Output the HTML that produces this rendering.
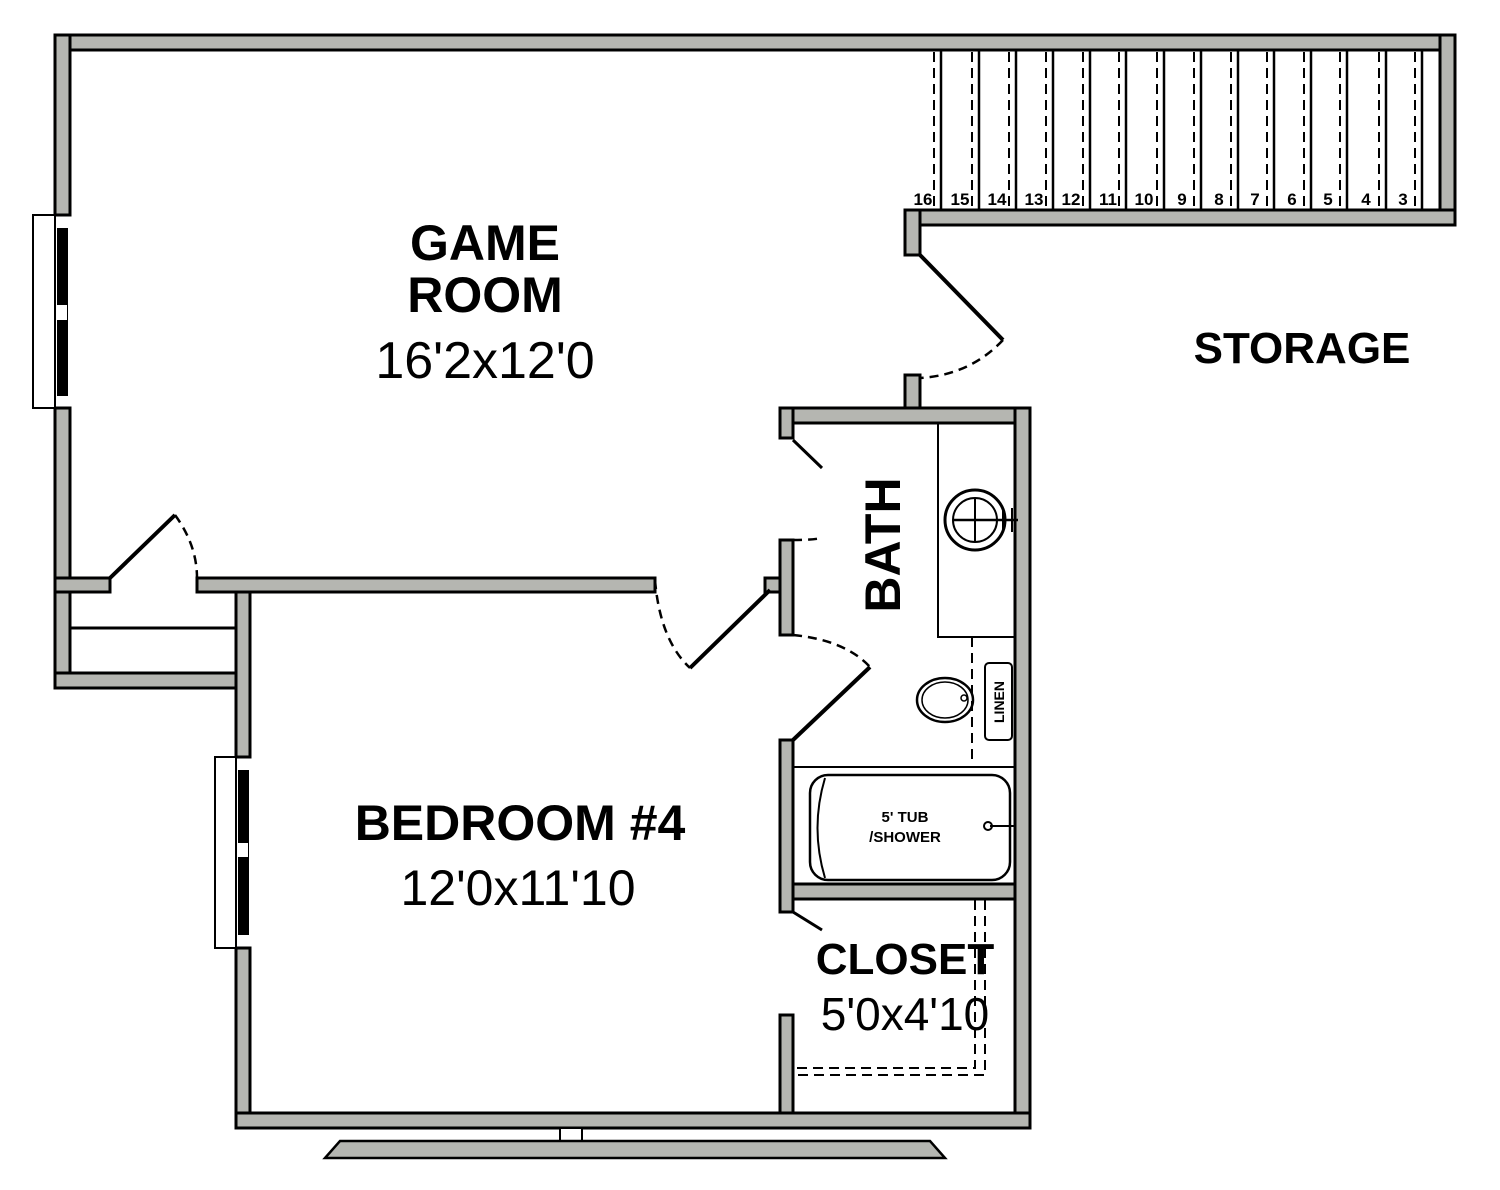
<!DOCTYPE html>
<html><head><meta charset="utf-8"><style>html,body{margin:0;padding:0;background:#fff}svg{display:block}</style></head>
<body>
<svg width="1500" height="1190" viewBox="0 0 1500 1190" xmlns="http://www.w3.org/2000/svg" font-family="Liberation Sans, sans-serif">
<g fill="#b5b6b1" stroke="#000" stroke-width="3">
<rect x="55" y="35" width="1400" height="15"/>
<rect x="1440" y="35" width="15" height="190"/>
<rect x="905" y="210" width="550" height="15"/>
<rect x="905" y="210" width="15" height="45"/>
<rect x="905" y="375" width="15" height="40"/>
<rect x="55" y="35" width="15" height="180"/>
<rect x="55" y="408" width="15" height="280"/>
<rect x="55" y="578" width="55" height="14"/>
<rect x="197" y="578" width="458" height="14"/>
<rect x="765" y="578" width="28" height="14"/>
<rect x="55" y="673" width="195" height="15"/>
<rect x="236" y="592" width="14" height="165"/>
<rect x="236" y="948" width="14" height="180"/>
<rect x="780" y="408" width="250" height="15"/>
<rect x="1015" y="408" width="15" height="720"/>
<rect x="780" y="408" width="13" height="30"/>
<rect x="780" y="540" width="13" height="95"/>
<rect x="780" y="740" width="13" height="172"/>
<rect x="780" y="1015" width="13" height="113"/>
<rect x="793" y="884" width="222" height="15"/>
<rect x="236" y="1113" width="794" height="15"/>
</g>
<g fill="none" stroke="#000">
<rect x="33" y="215" width="22" height="193" stroke-width="2" fill="#fff"/>
<rect x="57" y="228" width="11" height="168" fill="#000" stroke="none"/>
<line x1="62" y1="305" x2="62" y2="320" stroke="#fff" stroke-width="10"/>
<rect x="215" y="757" width="21" height="191" stroke-width="2" fill="#fff"/>
<rect x="238" y="770" width="11" height="165" fill="#000" stroke="none"/>
<line x1="243" y1="843" x2="243" y2="857" stroke="#fff" stroke-width="10"/>
<line x1="70" y1="628" x2="236" y2="628" stroke-width="3"/>
<line x1="110" y1="578" x2="175" y2="515" stroke-width="4"/>
<path d="M175 515 Q197 545 197 578" stroke-width="2.5" stroke-dasharray="9 6"/>
<line x1="690" y1="668" x2="770" y2="590" stroke-width="4"/>
<path d="M655 580 Q660 640 690 668" stroke-width="2.5" stroke-dasharray="9 6"/>
<line x1="920" y1="255" x2="1003" y2="340" stroke-width="4"/>
<path d="M1003 340 Q970 375 920 378" stroke-width="2.5" stroke-dasharray="9 6"/>
<line x1="793" y1="440" x2="822" y2="468" stroke-width="3"/>
<path d="M793 540 Q812 540 822 538" stroke-width="2.5" stroke-dasharray="9 6"/>
<line x1="793" y1="740" x2="870" y2="667" stroke-width="4"/>
<path d="M793 635 Q845 640 870 667" stroke-width="2.5" stroke-dasharray="9 6"/>
<line x1="793" y1="912" x2="822" y2="930" stroke-width="3"/>
<rect x="938" y="423" width="77" height="214" stroke-width="2"/>
<circle cx="975" cy="520" r="30" stroke-width="3"/>
<circle cx="975" cy="520" r="22" stroke-width="2"/>
<line x1="953" y1="520" x2="1018" y2="520" stroke-width="2.5"/>
<line x1="975" y1="498" x2="975" y2="542" stroke-width="2"/>
<line x1="1003" y1="508" x2="1003" y2="532" stroke-width="2"/>
<line x1="1012" y1="508" x2="1012" y2="532" stroke-width="2"/>
<line x1="972" y1="637" x2="972" y2="762" stroke-width="2" stroke-dasharray="10 6"/>
<ellipse cx="945" cy="700" rx="28" ry="22" stroke-width="2.5"/>
<ellipse cx="945" cy="700" rx="23" ry="18" stroke-width="1.5"/>
<circle cx="964" cy="698" r="3" stroke-width="1.5"/>
<rect x="985" y="663" width="27" height="77" rx="4" stroke-width="2"/>
<text x="0" y="0" transform="translate(1004 702) rotate(-90)" font-size="14" font-weight="bold" fill="#000" stroke="none" text-anchor="middle">LINEN</text>
<line x1="793" y1="767" x2="1015" y2="767" stroke-width="2"/>
<rect x="810" y="775" width="200" height="105" rx="18" stroke-width="2.5"/>
<path d="M825 778 Q810 828 825 878" stroke-width="2"/>
<line x1="990" y1="826" x2="1015" y2="826" stroke-width="2"/>
<circle cx="988" cy="826" r="4" stroke-width="2"/>
<text x="905" y="822" font-size="15" font-weight="bold" fill="#000" stroke="none" text-anchor="middle">5' TUB</text>
<text x="905" y="842" font-size="15" font-weight="bold" fill="#000" stroke="none" text-anchor="middle">/SHOWER</text>
<path d="M975 900 V1068 H795" stroke-width="2" stroke-dasharray="10 6"/>
<path d="M985 900 V1075 H795" stroke-width="2" stroke-dasharray="10 6"/>
<g stroke-width="2.5">
<line x1="941" y1="50" x2="941" y2="210"/><line x1="979" y1="50" x2="979" y2="210"/>
<line x1="1016" y1="50" x2="1016" y2="210"/><line x1="1053" y1="50" x2="1053" y2="210"/>
<line x1="1090" y1="50" x2="1090" y2="210"/><line x1="1126" y1="50" x2="1126" y2="210"/>
<line x1="1164" y1="50" x2="1164" y2="210"/><line x1="1201" y1="50" x2="1201" y2="210"/>
<line x1="1238" y1="50" x2="1238" y2="210"/><line x1="1274" y1="50" x2="1274" y2="210"/>
<line x1="1311" y1="50" x2="1311" y2="210"/><line x1="1347" y1="50" x2="1347" y2="210"/>
<line x1="1386" y1="50" x2="1386" y2="210"/><line x1="1422" y1="50" x2="1422" y2="210"/>
</g>
<g stroke-width="2" stroke-dasharray="10 6">
<line x1="934" y1="52" x2="934" y2="210"/><line x1="972" y1="52" x2="972" y2="210"/>
<line x1="1009" y1="52" x2="1009" y2="210"/><line x1="1046" y1="52" x2="1046" y2="210"/>
<line x1="1083" y1="52" x2="1083" y2="210"/><line x1="1119" y1="52" x2="1119" y2="210"/>
<line x1="1157" y1="52" x2="1157" y2="210"/><line x1="1194" y1="52" x2="1194" y2="210"/>
<line x1="1231" y1="52" x2="1231" y2="210"/><line x1="1267" y1="52" x2="1267" y2="210"/>
<line x1="1304" y1="52" x2="1304" y2="210"/><line x1="1340" y1="52" x2="1340" y2="210"/>
<line x1="1379" y1="52" x2="1379" y2="210"/><line x1="1415" y1="52" x2="1415" y2="210"/>
</g>
</g>
<g font-size="17" font-weight="bold" fill="#000" text-anchor="middle">
<text x="923" y="205">16</text><text x="960" y="205">15</text><text x="997" y="205">14</text>
<text x="1034" y="205">13</text><text x="1071" y="205">12</text><text x="1108" y="205">11</text>
<text x="1144" y="205">10</text><text x="1182" y="205">9</text><text x="1219" y="205">8</text>
<text x="1255" y="205">7</text><text x="1292" y="205">6</text><text x="1328" y="205">5</text>
<text x="1366" y="205">4</text><text x="1403" y="205">3</text>
</g>
<rect x="560" y="1128" width="22" height="13" fill="#fff" stroke="#000" stroke-width="2"/>
<path d="M340 1141 H930 L945 1158 H325 Z" fill="#b5b6b1" stroke="#000" stroke-width="2.5"/>
<g fill="#000" text-anchor="middle">
<text x="485" y="260" font-size="50" font-weight="bold">GAME</text>
<text x="485" y="312" font-size="50" font-weight="bold">ROOM</text>
<text x="485" y="378" font-size="52">16'2x12'0</text>
<text x="1302" y="363" font-size="44" font-weight="bold">STORAGE</text>
<text x="520" y="840" font-size="50" font-weight="bold">BEDROOM #4</text>
<text x="518" y="905" font-size="50">12'0x11'10</text>
<text x="0" y="0" transform="translate(900 545) rotate(-90)" font-size="50" font-weight="bold">BATH</text>
<text x="905" y="974" font-size="44" font-weight="bold">CLOSET</text>
<text x="905" y="1030" font-size="46">5'0x4'10</text>
</g>
</svg>
</body></html>
